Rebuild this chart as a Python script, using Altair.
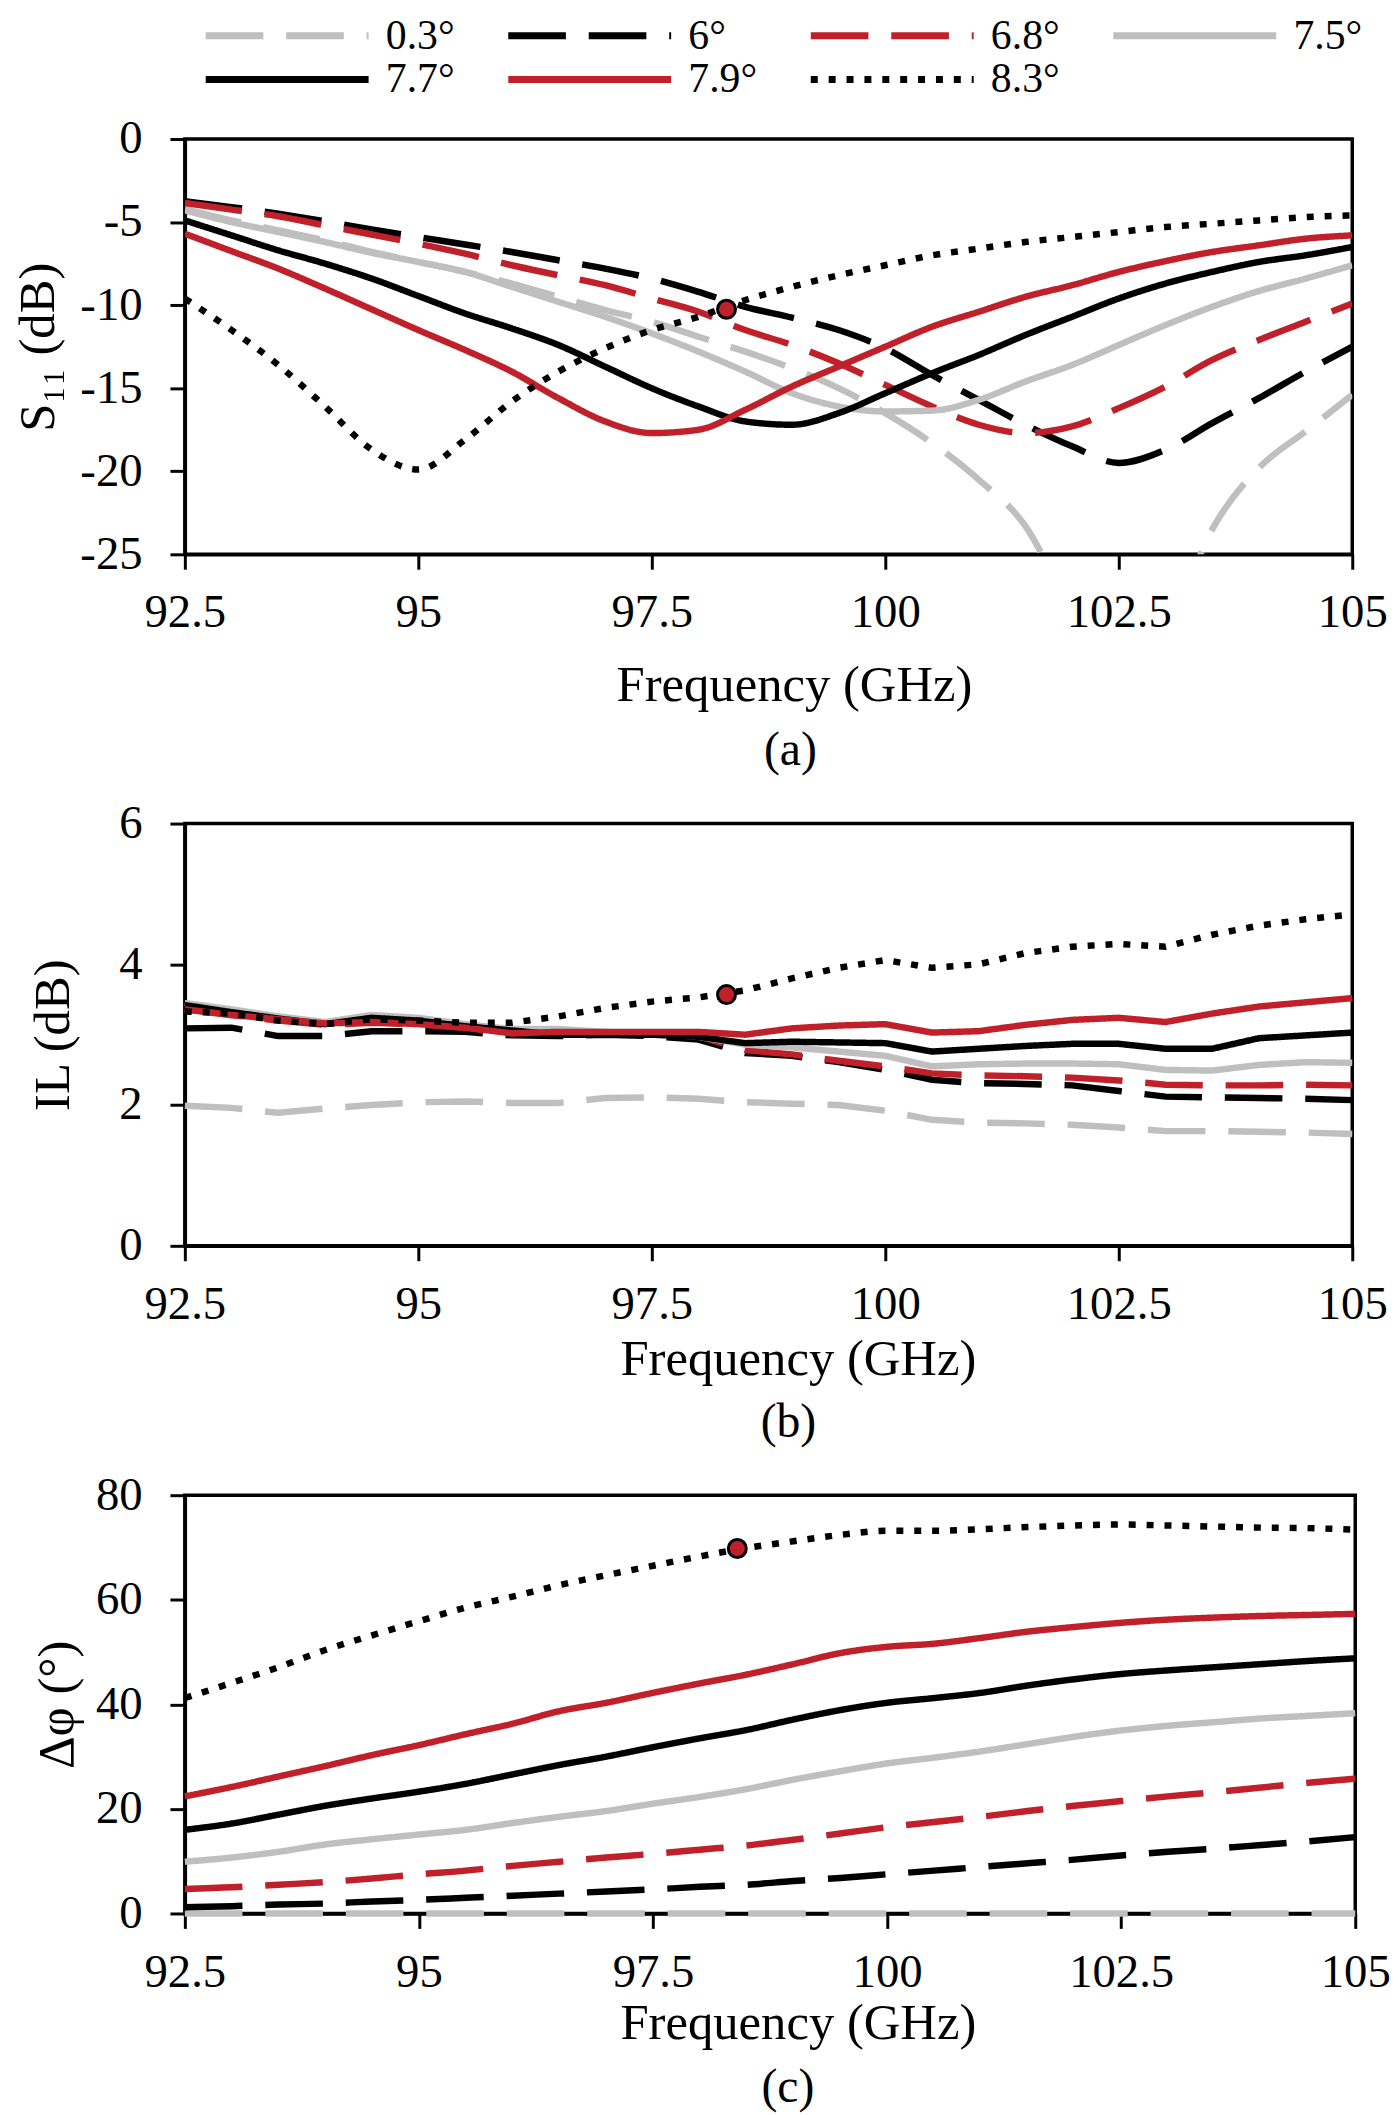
import altair as alt
import pandas as pd

FONT = "Liberation Serif"
RED = "#C0202A"
GRAY = "#BFBFBF"
BLACK = "#000000"

freq = [92.5, 93.0, 93.5, 94.0, 94.5, 95.0, 95.5, 96.0, 96.5, 97.0, 97.5, 98.0, 98.5,
        99.0, 99.5, 100.0, 100.5, 101.0, 101.5, 102.0, 102.5, 103.0, 103.5, 104.0, 104.5, 105.0]
series = ["0.3°", "6°", "6.8°", "7.5°", "7.7°", "7.9°", "8.3°"]
series_colors = [GRAY, BLACK, RED, GRAY, BLACK, RED, BLACK]
series_dashes = [[58, 23], [58, 23], [58, 23], [1, 0], [1, 0], [1, 0], [7, 11]]
freq_ticks = [92.5, 95, 97.5, 100, 102.5, 105]

# (a) S11 (dB)
s11_03 = [-4.2, -4.9, -5.5, -6.1, -6.8, -7.4, -8.0, -8.7, -9.5, -10.3, -11.0, -11.9, -12.8,
          -13.8, -15.0, -16.5, -18.3, -20.5, -23.3, -28.5, -33.0, -30.0, -23.5, -19.8, -17.6, -15.4]
s11_6 = [-3.75, -4.1, -4.5, -4.95, -5.45, -5.9, -6.35, -6.8, -7.3, -7.8, -8.4, -9.2, -10.1,
         -10.75, -11.5, -12.6, -14.2, -15.7, -17.2, -18.5, -19.5, -18.7, -17.1, -15.6, -14.0, -12.5]
s11_68 = [-3.85, -4.25, -4.65, -5.2, -5.75, -6.3, -6.9, -7.6, -8.2, -8.8, -9.6, -10.4, -11.5,
          -12.4, -13.5, -14.8, -16.1, -17.2, -17.7, -17.3, -16.2, -14.9, -13.3, -12.1, -11.0, -9.9]
s11_75 = [-4.3, -5.0, -5.6, -6.2, -6.85, -7.4, -8.0, -8.9, -9.8, -10.7, -11.7, -12.8, -14.0,
          -15.3, -16.1, -16.4, -16.35, -15.7, -14.6, -13.6, -12.4, -11.2, -10.1, -9.15, -8.4, -7.6]
s11_77 = [-4.9, -5.8, -6.7, -7.5, -8.4, -9.45, -10.5, -11.4, -12.4, -13.7, -15.0, -16.1, -17.0,
          -17.2, -16.5, -15.3, -14.1, -13.0, -11.8, -10.7, -9.6, -8.7, -8.0, -7.4, -7.0, -6.5]
s11_79 = [-5.7, -6.75, -7.8, -9.0, -10.25, -11.5, -12.7, -14.0, -15.6, -17.0, -17.7, -17.5, -16.3,
          -14.9, -13.7, -12.5, -11.3, -10.4, -9.5, -8.8, -8.0, -7.35, -6.8, -6.4, -6.0, -5.8]
s11_83 = [-9.6, -11.5, -13.6, -16.1, -18.7, -19.9, -18.1, -15.8, -14.0, -12.6, -11.5, -10.7, -9.7,
          -8.9, -8.2, -7.6, -7.0, -6.6, -6.2, -5.9, -5.6, -5.3, -5.1, -4.9, -4.7, -4.6]

# (b) IL (dB)
il_03 = [1.99, 1.96, 1.89, 1.95, 2.0, 2.04, 2.05, 2.03, 2.03, 2.1, 2.11, 2.09, 2.04,
         2.02, 2.0, 1.92, 1.79, 1.75, 1.74, 1.72, 1.68, 1.63, 1.63, 1.62, 1.61, 1.59]
il_6 = [3.09, 3.1, 2.98, 2.98, 3.05, 3.05, 3.04, 2.99, 2.98, 3.0, 2.98, 2.93, 2.74,
        2.7, 2.61, 2.5, 2.36, 2.31, 2.3, 2.28, 2.2, 2.12, 2.11, 2.1, 2.09, 2.07]
il_68 = [3.36, 3.28, 3.2, 3.14, 3.17, 3.15, 3.1, 3.02, 3.04, 3.03, 3.02, 2.98, 2.78,
         2.72, 2.63, 2.55, 2.45, 2.42, 2.41, 2.39, 2.35, 2.29, 2.28, 2.28, 2.29, 2.28]
il_75 = [3.45, 3.36, 3.26, 3.18, 3.28, 3.24, 3.15, 3.08, 3.08, 3.04, 3.02, 2.97, 2.86,
         2.82, 2.76, 2.7, 2.55, 2.58, 2.59, 2.59, 2.58, 2.5, 2.49, 2.57, 2.61, 2.6]
il_77 = [3.42, 3.32, 3.23, 3.15, 3.24, 3.2, 3.12, 3.06, 3.0, 3.0, 3.0, 2.97, 2.88,
         2.9, 2.89, 2.88, 2.76, 2.8, 2.84, 2.87, 2.87, 2.8, 2.8, 2.95, 2.99, 3.03]
il_79 = [3.36, 3.28, 3.22, 3.16, 3.18, 3.15, 3.1, 3.02, 3.04, 3.04, 3.04, 3.04, 3.0,
         3.09, 3.13, 3.15, 3.03, 3.05, 3.14, 3.21, 3.24, 3.18, 3.3, 3.4, 3.46, 3.52]
il_83 = [3.33, 3.3, 3.2, 3.15, 3.22, 3.2, 3.17, 3.17, 3.26, 3.38, 3.47, 3.53, 3.63,
         3.8, 3.95, 4.06, 3.95, 4.0, 4.16, 4.25, 4.29, 4.25, 4.42, 4.55, 4.64, 4.71]

# (c) Delta phi (deg)
ph_03 = [0, 0, 0, 0, 0, 0, 0, 0, 0, 0, 0, 0, 0,
         0, 0, 0, 0, 0, 0, 0, 0, 0, 0, 0, 0, 0]
ph_6 = [1.2, 1.4, 1.7, 1.9, 2.3, 2.6, 3.0, 3.4, 3.8, 4.2, 4.6, 5.1, 5.5,
        6.2, 6.8, 7.5, 8.2, 8.9, 9.6, 10.3, 11.1, 11.8, 12.4, 13.1, 13.8, 14.6]
ph_68 = [4.7, 5.0, 5.5, 6.0, 6.7, 7.5, 8.2, 9.1, 9.9, 10.7, 11.4, 12.2, 13.0,
         14.1, 15.3, 16.5, 17.5, 18.5, 19.6, 20.6, 21.5, 22.4, 23.2, 24.1, 25.0, 25.8]
ph_75 = [9.9, 10.7, 11.8, 13.2, 14.2, 15.1, 16.0, 17.3, 18.5, 19.6, 21.0, 22.3, 23.8,
         25.6, 27.2, 28.7, 29.8, 31.0, 32.4, 33.8, 35.0, 35.9, 36.6, 37.3, 37.8, 38.3]
ph_77 = [16.0, 17.2, 18.9, 20.6, 22.0, 23.3, 24.8, 26.6, 28.4, 30.0, 31.8, 33.5, 35.1,
         37.1, 38.9, 40.3, 41.2, 42.2, 43.6, 44.8, 45.8, 46.5, 47.1, 47.7, 48.3, 48.8]
ph_79 = [22.4, 24.2, 26.2, 28.2, 30.3, 32.2, 34.3, 36.3, 38.7, 40.3, 42.2, 44.0, 45.7,
         47.7, 49.8, 51.0, 51.6, 52.7, 53.9, 54.8, 55.6, 56.2, 56.6, 56.9, 57.1, 57.3]
ph_83 = [41.2, 44.1, 47.1, 50.4, 53.2, 55.9, 58.5, 60.6, 62.8, 64.7, 66.5, 68.3, 69.9,
         71.2, 72.4, 73.2, 73.2, 73.5, 73.9, 74.2, 74.4, 74.2, 74.0, 73.8, 73.7, 73.4]

# highlighted design point on the 8.3 deg curve
marker_freq = [98.3, 98.3, 98.4]
marker_vals = [-10.25, 3.57, 69.8]


def long_df(cols):
    rows = []
    for name, vals in zip(series, cols):
        for f, v in zip(freq, vals):
            rows.append({"f": f, "v": v, "s": name})
    return pd.DataFrame(rows)


legend = alt.Legend(
    orient="none", legendX=10.25, legendY=-125, direction="horizontal", columns=4,
    title=None, symbolType="M-1,0H15", symbolSize=420, symbolStrokeWidth=7,
    labelFont=FONT, labelFontSize=42, labelColor="black", labelOffset=150,
    columnPadding=38.5, rowPadding=2, padding=0,
)

Y_EXTENT = 176


def panel(cols, y_domain, y_ticks, y_title, width, height, y_title_x,
          x_title_x, x_title_y, caption, cap_dx, cap_offset, clip, interp, mi):
    df = long_df(cols)
    x_enc = alt.X(
        "f:Q",
        scale=alt.Scale(domain=[92.5, 105], nice=False, zero=False),
        axis=alt.Axis(values=freq_ticks, title="Frequency (GHz)", titleX=x_title_x,
                      titleY=x_title_y, labelExpr="'' + datum.value"),
    )
    y_enc = alt.Y(
        "v:Q",
        scale=alt.Scale(domain=y_domain, nice=False, zero=False),
        axis=alt.Axis(values=y_ticks, title=y_title, titleX=y_title_x, titleY=height / 2,
                      minExtent=Y_EXTENT, maxExtent=Y_EXTENT, labelExpr="'' + datum.value"),
    )
    lines = alt.Chart(df).mark_line(strokeWidth=6.5, clip=clip, interpolate=interp).encode(
        x=x_enc,
        y=y_enc,
        color=alt.Color("s:N", scale=alt.Scale(domain=series, range=series_colors), legend=legend),
        strokeDash=alt.StrokeDash("s:N", scale=alt.Scale(domain=series, range=series_dashes), legend=legend),
    )
    mk_df = pd.DataFrame({"f": [marker_freq[mi]], "v": [marker_vals[mi]]})
    mk = alt.Chart(mk_df).mark_point(
        shape="circle", filled=True, fill=RED, stroke="black", strokeWidth=3, size=330, opacity=1
    ).encode(x="f:Q", y="v:Q")
    return alt.layer(lines, mk).properties(
        width=width, height=height,
        title=alt.TitleParams(caption, orient="bottom", font=FONT, fontSize=48, fontWeight="normal",
                              color="black", anchor="middle", frame="group", dx=cap_dx, offset=cap_offset),
    )


pa = panel([s11_03, s11_6, s11_68, s11_75, s11_77, s11_79, s11_83], [-25, 0],
           [-25, -20, -15, -10, -5, 0], "S₁₁ (dB)", 1175, 418, -172,
           613, 147, "(a)", 22, 17, True, "monotone", 0)
pb = panel([il_03, il_6, il_68, il_75, il_77, il_79, il_83], [0, 6],
           [0, 2, 4, 6], "IL (dB)", 1175, 425, -157,
           617, 129.5, "(b)", 20, 14.5, False, "linear", 1)
pc = panel([ph_03, ph_6, ph_68, ph_75, ph_77, ph_79, ph_83], [0, 80],
           [0, 20, 40, 60, 80], "Δφ (°)", 1178, 421, -153,
           617, 125.5, "(c)", 18, 16.5, False, "monotone", 2)

chart = alt.vconcat(
    pa, pb, pc, spacing=21,
    padding={"left": 0, "right": 0, "top": 0, "bottom": 0},
    background="white",
).configure_view(
    stroke="black", strokeWidth=3.5
).configure_axis(
    labelFont=FONT, labelFontSize=47, labelColor="black",
    titleFont=FONT, titleFontSize=51, titleFontWeight="normal", titleColor="black",
    tickSize=15, tickWidth=3, tickColor="black", domainColor="black", domainWidth=3.5,
    grid=False, labelFlush=False, labelOverlap=False,
).configure_axisX(
    labelPadding=21, titleBaseline="alphabetic", titleAlign="center"
).configure_axisY(
    labelPadding=28, titleAngle=270, titleBaseline="top", titleAlign="center"
)

chart.save("out.html", embed_options={"renderer": "svg", "actions": False})
